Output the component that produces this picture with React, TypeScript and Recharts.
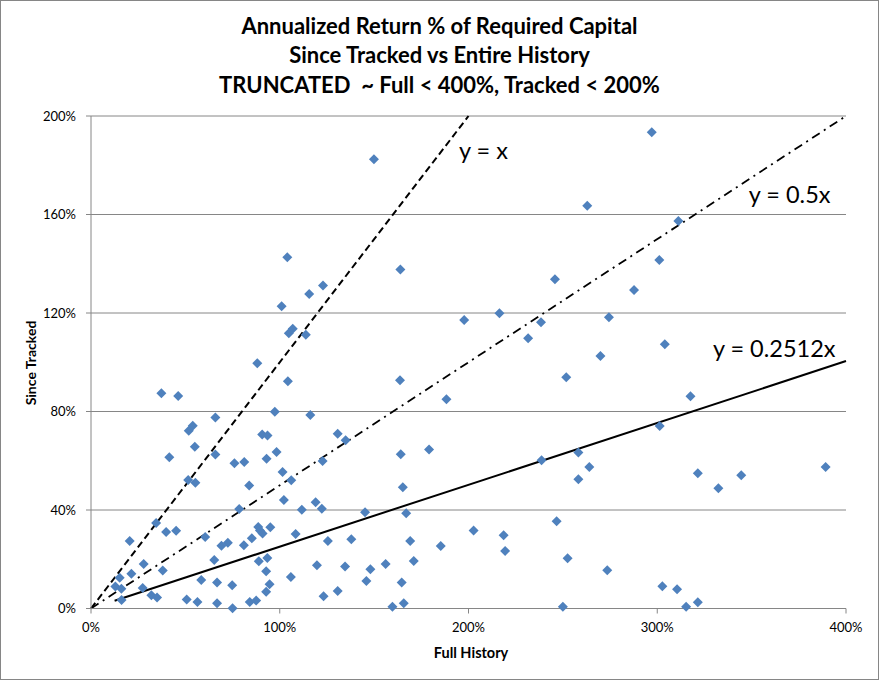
import React from 'react';
import { ScatterChart, Scatter, XAxis, YAxis, CartesianGrid, ReferenceLine, ReferenceDot } from 'recharts';

// Full History (x, %) and Since Tracked (y, %)
const fullHistory = [
  149.9, 104.0, 115.6, 122.9, 101.0, 104.8, 106.9, 113.8, 88.1, 104.3,
  37.3, 46.2, 97.4, 116.2, 65.9, 53.9, 51.8, 90.7, 93.5, 130.7,
  134.9, 55.0, 98.3, 65.9, 93.0, 41.5, 76.0, 81.2, 122.7, 101.5,
  51.5, 55.3, 106.1, 83.8, 102.2, 119.0, 122.3, 78.5, 111.7, 145.2,
  34.5, 39.8, 45.1, 88.6, 90.9, 95.0, 89.5, 60.5, 20.5, 69.1,
  72.5, 81.0, 85.2, 108.4, 125.5, 137.9, 65.3, 88.9, 93.4, 27.9,
  21.4, 38.0, 92.8, 119.7, 134.6, 148.0, 15.2, 12.9, 16.1, 27.4,
  58.4, 66.8, 74.8, 94.6, 92.8, 105.9, 145.9, 32.0, 35.0, 16.2,
  50.7, 56.4, 66.8, 75.0, 84.1, 87.5, 123.2, 130.7,
  297.1, 262.9, 311.2, 163.9, 301.1, 245.8, 287.7, 197.7, 216.4, 238.4,
  274.4, 231.6, 304.0, 269.9, 163.7, 251.8, 188.3, 317.6, 301.3, 164.1,
  179.1, 238.7, 258.2, 264.0, 258.2, 321.5, 344.5, 332.4, 389.2, 165.2,
  167.0, 246.7, 202.7, 218.6, 169.1, 185.3, 219.4, 171.0, 252.5, 156.1,
  273.5, 164.6, 302.7, 310.5, 159.7, 165.7, 250.0, 315.3, 321.5,
];
const sinceTracked = [
  182.4, 142.6, 127.7, 131.2, 122.7, 111.8, 113.6, 111.2, 99.6, 92.3,
  87.4, 86.3, 79.9, 78.6, 77.6, 74.2, 72.2, 70.7, 70.3, 71.0,
  68.3, 65.7, 63.6, 62.5, 60.8, 61.4, 59.0, 59.5, 59.9, 55.4,
  52.2, 51.1, 52.1, 50.0, 44.1, 43.1, 40.5, 40.4, 40.1, 39.1,
  34.7, 31.1, 31.6, 33.1, 30.5, 33.0, 31.7, 29.0, 27.4, 25.5,
  26.7, 25.7, 28.5, 30.3, 27.4, 28.1, 19.7, 19.2, 20.5, 18.1,
  14.1, 15.4, 15.1, 17.6, 17.1, 15.9, 12.5, 8.9, 8.0, 8.3,
  11.6, 10.6, 9.4, 9.8, 6.8, 12.8, 11.2, 5.4, 4.5, 3.5,
  3.7, 2.6, 2.1, 0.1, 2.6, 3.2, 5.0, 7.1,
  193.4, 163.6, 157.4, 137.7, 141.5, 133.7, 129.3, 117.2, 119.9, 116.2,
  118.3, 109.7, 107.3, 102.5, 92.7, 93.9, 85.0, 86.2, 74.1, 62.6,
  64.6, 60.2, 63.4, 57.5, 52.5, 54.9, 54.1, 48.8, 57.5, 49.2,
  38.7, 35.4, 31.7, 29.7, 27.4, 25.4, 23.4, 19.3, 20.4, 18.1,
  15.5, 10.6, 9.0, 7.8, 0.7, 2.1, 0.7, 0.7, 2.5,
];

const xTicks = [0, 100, 200, 300, 400];
const yTicks = [0, 40, 80, 120, 160, 200];

const titleLines = [
  'Annualized Return % of Required Capital',
  'Since Tracked vs Entire History',
  'TRUNCATED  ~ Full < 400%, Tracked < 200%',
];

// reference lines: y = x, y = 0.5x and the fitted y = 0.2512x
const slopeUnit = 1;
const slopeHalf = 0.5;
const slopeFit = 0.2512;
const fitStartX = 12.5;

const trendLabels = [
  { text: 'y = x', x: 195, y: 186 },
  { text: 'y = 0.5x', x: 348.5, y: 168 },
  { text: 'y = 0.2512x', x: 329.5, y: 105.5 },
];

const points = fullHistory.map((x, i) => ({ x, y: sinceTracked[i] }));

const FONT = 'Lato, "Open Sans", sans-serif';
const GRID = '#868686';

const Diamond = (props: any) => {
  const { cx, cy } = props;
  if (cx == null || cy == null) return null;
  const r = 5;
  return (
    <polygon
      points={`${cx},${cy - r} ${cx + r},${cy} ${cx},${cy + r} ${cx - r},${cy}`}
      fill="#4F81BD"
    />
  );
};

const pct = (v: number) => `${v}%`;

export default function App() {
  return (
    <div style={{ position: 'absolute', left: 0, top: 0, width: 879, height: 680, background: '#fff', fontFamily: FONT }}>
      <ScatterChart width={879} height={680} margin={{ top: 116, right: 33, bottom: 41.5, left: 0 }}>
        <CartesianGrid vertical={false} stroke={GRID} strokeWidth={1} />
        <XAxis
          type="number"
          dataKey="x"
          domain={[0, 400]}
          ticks={xTicks}
          tickFormatter={pct}
          height={30}
          stroke={GRID}
          tickSize={5}
          tickMargin={9}
          tick={{ fill: '#000', fontSize: 13, fontFamily: FONT }}
        />
        <YAxis
          type="number"
          dataKey="y"
          domain={[0, 200]}
          ticks={yTicks}
          tickFormatter={pct}
          width={91}
          stroke={GRID}
          tickSize={5}
          tickMargin={10}
          tick={{ fill: '#000', fontSize: 13, fontFamily: FONT }}
        />
        <ReferenceLine
          segment={[{ x: 0, y: 0 }, { x: 200, y: 200 * slopeUnit }]}
          stroke="#000"
          strokeWidth={2}
          strokeDasharray="7 4"
        />
        <ReferenceLine
          segment={[{ x: 0, y: 0 }, { x: 400, y: 400 * slopeHalf }]}
          stroke="#000"
          strokeWidth={1.8}
          strokeDasharray="9 5 2 5"
        />
        <ReferenceLine
          segment={[{ x: fitStartX, y: fitStartX * slopeFit }, { x: 400, y: 400 * slopeFit }]}
          stroke="#000"
          strokeWidth={2}
        />
        <Scatter data={points} shape={<Diamond />} isAnimationActive={false} />
        {trendLabels.map((t) => (
          <ReferenceDot
            key={t.text}
            x={t.x}
            y={t.y}
            r={0}
            fill="none"
            stroke="none"
            label={{ value: t.text, position: 'right', offset: 0, fontSize: 23.5, fill: '#000', fontFamily: FONT }}
          />
        ))}
      </ScatterChart>
      {titleLines.map((line, i) => (
        <div
          key={i}
          style={{
            position: 'absolute',
            left: 0,
            width: 879,
            top: 25.5 + i * 29.5,
            transform: 'translateY(-50%)',
            textAlign: 'center',
            fontWeight: 'bold',
            fontSize: 22,
            lineHeight: '26px',
            whiteSpace: 'pre',
            color: '#000',
          }}
        >
          {line}
        </div>
      ))}
      <div
        style={{
          position: 'absolute',
          left: 471,
          top: 652,
          transform: 'translate(-50%, -50%)',
          fontWeight: 'bold',
          fontSize: 14.5,
          whiteSpace: 'nowrap',
        }}
      >
        Full History
      </div>
      <div
        style={{
          position: 'absolute',
          left: 30,
          top: 362.5,
          transform: 'translate(-50%, -50%) rotate(-90deg)',
          fontWeight: 'bold',
          fontSize: 14,
          whiteSpace: 'nowrap',
        }}
      >
        Since Tracked
      </div>
      <div
        style={{
          position: 'absolute',
          left: 0,
          top: 0,
          width: 879,
          height: 680,
          boxSizing: 'border-box',
          border: `1px solid ${GRID}`,
          pointerEvents: 'none',
        }}
      />
    </div>
  );
}
